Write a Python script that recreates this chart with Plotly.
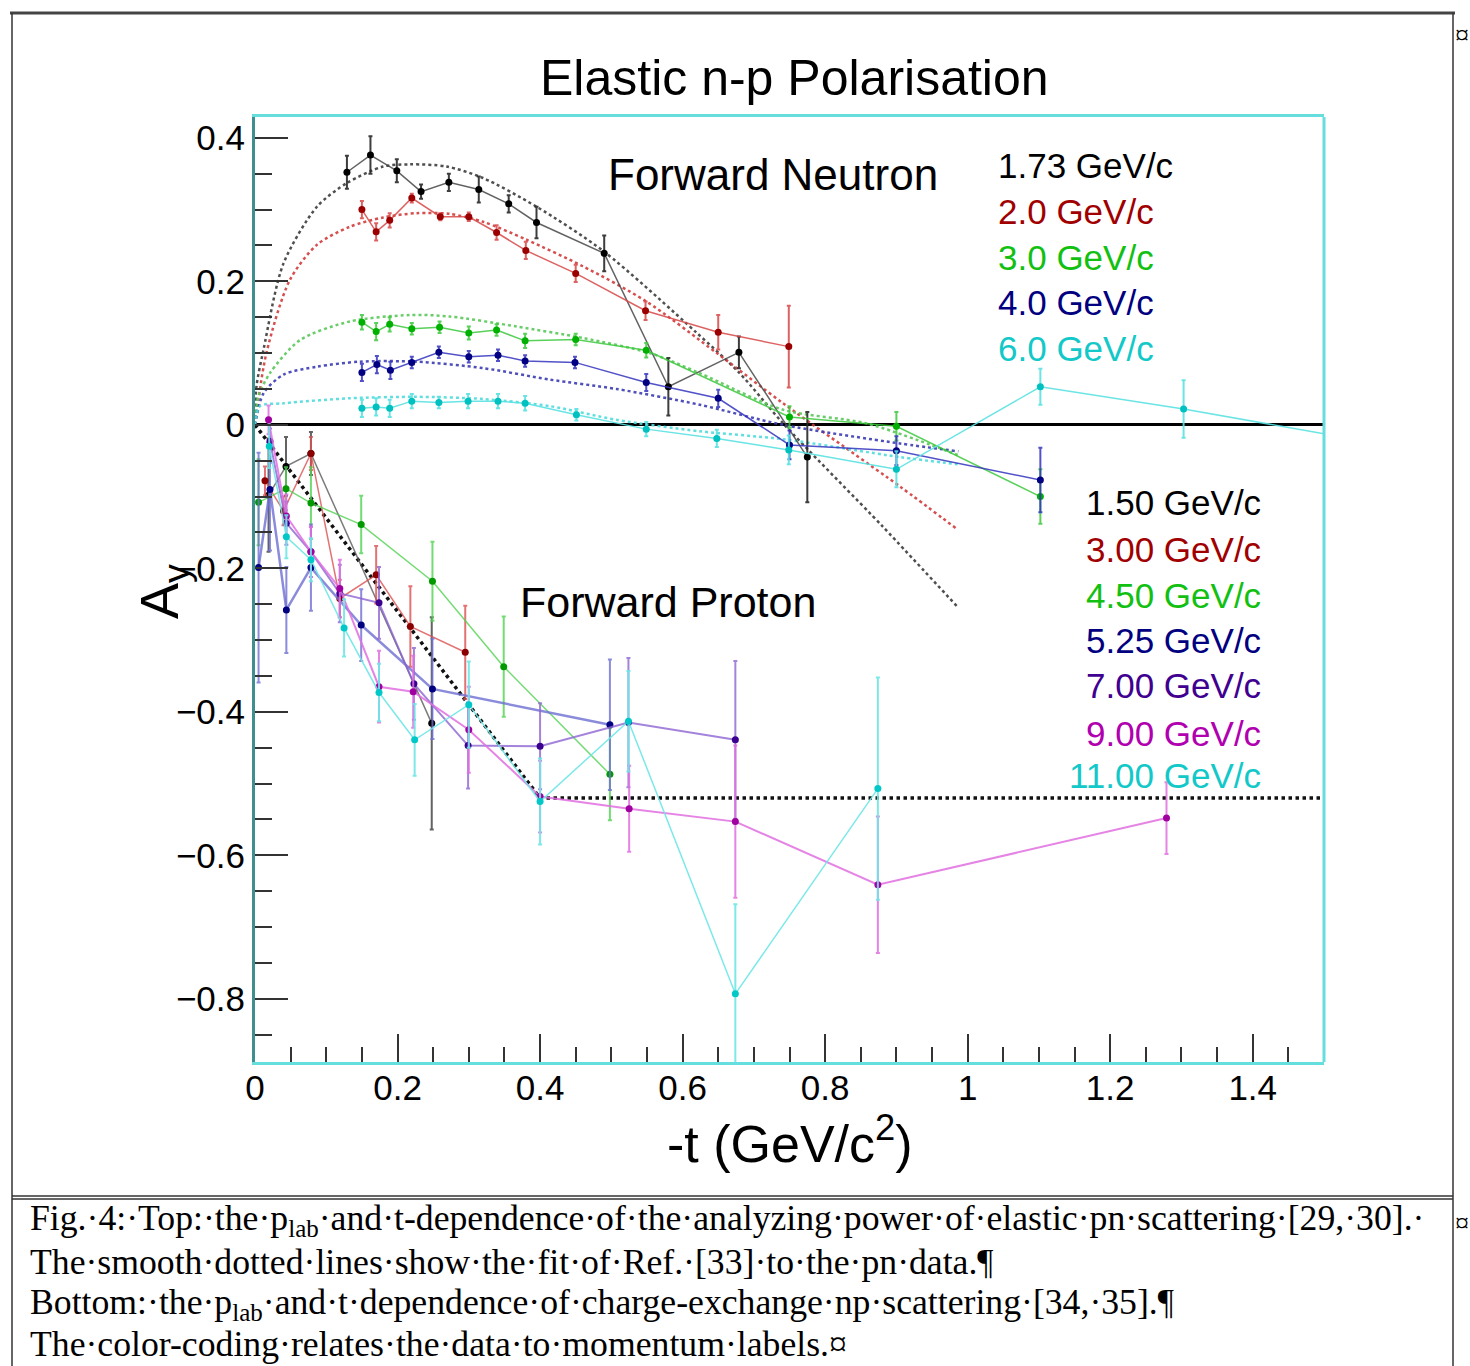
import plotly.graph_objects as go

# ---------------- data ----------------
# Forward neutron (elastic n-p), -t in GeV^2, Ay
n173_t = [0.129, 0.162, 0.199, 0.233, 0.272, 0.314, 0.356, 0.395, 0.490, 0.580, 0.679, 0.775]
n173_a = [0.352, 0.376, 0.354, 0.325, 0.338, 0.328, 0.308, 0.282, 0.239, 0.053, 0.101, -0.045]
n173_e = [0.023, 0.026, 0.016, 0.010, 0.012, 0.018, 0.012, 0.022, 0.025, 0.040, 0.022, 0.063]

n20_t = [0.150, 0.170, 0.189, 0.220, 0.260, 0.300, 0.339, 0.380, 0.450, 0.548, 0.650, 0.749]
n20_a = [0.300, 0.269, 0.285, 0.316, 0.290, 0.290, 0.268, 0.243, 0.211, 0.159, 0.129, 0.109]
n20_e = [0.012, 0.012, 0.010, 0.006, 0.005, 0.006, 0.010, 0.012, 0.012, 0.013, 0.024, 0.057]

n30_t = [0.150, 0.170, 0.189, 0.220, 0.259, 0.300, 0.339, 0.379, 0.450, 0.549, 0.750, 0.900, 1.102]
n30_a = [0.143, 0.130, 0.140, 0.134, 0.136, 0.128, 0.132, 0.117, 0.119, 0.104, 0.011, -0.002, -0.100]
n30_e = [0.010, 0.012, 0.010, 0.008, 0.008, 0.009, 0.008, 0.010, 0.008, 0.010, 0.015, 0.020, 0.038]

n40_t = [0.150, 0.171, 0.190, 0.220, 0.258, 0.300, 0.341, 0.379, 0.449, 0.549, 0.650, 0.750, 0.900, 1.102]
n40_a = [0.073, 0.084, 0.076, 0.087, 0.101, 0.095, 0.097, 0.089, 0.087, 0.059, 0.037, -0.028, -0.036, -0.077]
n40_e = [0.012, 0.012, 0.012, 0.008, 0.008, 0.008, 0.008, 0.008, 0.008, 0.012, 0.012, 0.020, 0.020, 0.045]

n60_t = [0.150, 0.170, 0.189, 0.220, 0.258, 0.299, 0.341, 0.379, 0.451, 0.549, 0.648, 0.749, 0.900, 1.102, 1.303, 1.600]
n60_a = [0.023, 0.025, 0.023, 0.033, 0.031, 0.033, 0.033, 0.030, 0.014, -0.006, -0.019, -0.035, -0.062, 0.053, 0.022, -0.030]
n60_e = [0.012, 0.012, 0.012, 0.010, 0.008, 0.010, 0.010, 0.010, 0.008, 0.010, 0.012, 0.020, 0.025, 0.025, 0.040, 0.040]

# smooth fits (Ref. [33])
f173_t = [0.0, 0.002, 0.012, 0.040, 0.087, 0.129, 0.180, 0.217, 0.269, 0.320, 0.395, 0.489, 0.620, 0.680, 0.741, 0.881, 0.986]
f173_a = [0.0, 0.053, 0.105, 0.225, 0.304, 0.337, 0.360, 0.363, 0.360, 0.344, 0.304, 0.242, 0.128, 0.072, 0.002, -0.142, -0.254]
f20_t = [0.0, 0.016, 0.049, 0.087, 0.133, 0.180, 0.227, 0.273, 0.320, 0.381, 0.460, 0.549, 0.648, 0.741, 0.905, 0.986]
f20_a = [0.0, 0.100, 0.202, 0.251, 0.276, 0.289, 0.295, 0.294, 0.283, 0.258, 0.221, 0.172, 0.100, 0.030, -0.086, -0.146]
f30_t = [0.0, 0.005, 0.021, 0.063, 0.133, 0.217, 0.273, 0.367, 0.460, 0.554, 0.624, 0.741, 0.858, 0.986]
f30_a = [0.0, 0.040, 0.072, 0.118, 0.144, 0.153, 0.151, 0.137, 0.121, 0.100, 0.072, 0.021, 0.002, -0.042]
f40_t = [0.0, 0.012, 0.040, 0.087, 0.147, 0.227, 0.320, 0.414, 0.507, 0.624, 0.741, 0.905, 0.987]
f40_a = [0.0, 0.044, 0.070, 0.081, 0.088, 0.088, 0.079, 0.063, 0.050, 0.028, 0.000, -0.026, -0.037]
f60_t = [0.0, 0.007, 0.040, 0.133, 0.227, 0.320, 0.414, 0.507, 0.624, 0.741, 0.905, 0.986]
f60_a = [0.0, 0.026, 0.030, 0.037, 0.039, 0.036, 0.026, 0.007, -0.009, -0.020, -0.045, -0.055]

# Forward proton (charge exchange n-p)
p150_t = [0.019, 0.0435, 0.0785, 0.248]
p150_a = [-0.098, -0.058, -0.040, -0.416]
p150_e = [0.079, 0.041, 0.030, 0.148]

p300_t = [0.014, 0.040, 0.0785, 0.119, 0.170, 0.218, 0.295]
p300_a = [-0.078, -0.120, -0.040, -0.242, -0.209, -0.281, -0.317]
p300_e = [0.020, 0.020, 0.023, 0.026, 0.040, 0.056, 0.065]

p450_t = [0.005, 0.0435, 0.0785, 0.149, 0.249, 0.349, 0.498]
p450_a = [-0.108, -0.089, -0.109, -0.139, -0.218, -0.337, -0.487]
p450_e = [0.060, 0.030, 0.050, 0.040, 0.055, 0.070, 0.064]

p525_t = [0.005, 0.021, 0.044, 0.0785, 0.149, 0.249, 0.498]
p525_a = [-0.199, -0.090, -0.258, -0.199, -0.279, -0.368, -0.418]
p525_e = [0.160, 0.085, 0.060, 0.060, 0.050, 0.070, 0.091]

p700_t = [0.021, 0.044, 0.0785, 0.119, 0.174, 0.223, 0.299, 0.400, 0.524, 0.674]
p700_a = [-0.023, -0.137, -0.177, -0.235, -0.248, -0.361, -0.447, -0.448, -0.415, -0.439]
p700_e = [0.030, 0.030, 0.035, 0.040, 0.050, 0.050, 0.060, 0.060, 0.090, 0.110]

p900_t = [0.019, 0.044, 0.0785, 0.119, 0.174, 0.222, 0.300, 0.400, 0.525, 0.674, 0.874, 1.279]
p900_a = [0.007, -0.127, -0.177, -0.228, -0.365, -0.372, -0.425, -0.518, -0.535, -0.553, -0.641, -0.548]
p900_e = [0.020, 0.030, 0.035, 0.040, 0.050, 0.050, 0.060, 0.050, 0.060, 0.106, 0.095, 0.050]

p1100_t = [0.020, 0.044, 0.0785, 0.125, 0.174, 0.224, 0.300, 0.400, 0.524, 0.674, 0.874]
p1100_a = [-0.030, -0.156, -0.188, -0.283, -0.373, -0.439, -0.390, -0.525, -0.413, -0.793, -0.507]
p1100_e = [0.030, 0.030, 0.030, 0.040, 0.040, 0.050, 0.060, 0.060, 0.070, 0.125, 0.155]

# black guide line of the proton panel
pline_t = [0.0, 0.4, 1.5]
pline_a = [0.0, -0.52, -0.52]

neutron_labels = ["1.73 GeV/c", "2.0 GeV/c", "3.0 GeV/c", "4.0 GeV/c", "6.0 GeV/c"]
proton_labels = ["1.50 GeV/c", "3.00 GeV/c", "4.50 GeV/c", "5.25 GeV/c", "7.00 GeV/c", "9.00 GeV/c", "11.00 GeV/c"]

x_tickvals = [0, 0.2, 0.4, 0.6, 0.8, 1.0, 1.2, 1.4]
x_ticktext = ["0", "0.2", "0.4", "0.6", "0.8", "1", "1.2", "1.4"]
y_tickvals = [-0.8, -0.6, -0.4, -0.2, 0, 0.2, 0.4]
y_ticktext = ["\u22120.8", "\u22120.6", "\u22120.4", "\u22120.2", "0", "0.2", "0.4"]

caption_lines = [
    "Fig.\u00b74:\u00b7Top:\u00b7the\u00b7p<sub>lab</sub>\u00b7and\u00b7t-dependence\u00b7of\u00b7the\u00b7analyzing\u00b7power\u00b7of\u00b7elastic\u00b7pn\u00b7scattering\u00b7[29,\u00b730].\u00b7",
    "The\u00b7smooth\u00b7dotted\u00b7lines\u00b7show\u00b7the\u00b7fit\u00b7of\u00b7Ref.\u00b7[33]\u00b7to\u00b7the\u00b7pn\u00b7data.\u00b6",
    "Bottom:\u00b7the\u00b7p<sub>lab</sub>\u00b7and\u00b7t\u00b7dependence\u00b7of\u00b7charge-exchange\u00b7np\u00b7scattering\u00b7[34,\u00b735].\u00b6",
    "The\u00b7color-coding\u00b7relates\u00b7the\u00b7data\u00b7to\u00b7momentum\u00b7labels.\u00a4",
]

# ---------------- styling ----------------
W, H = 1470, 1366
L, R, T, B = 255, 1324, 117, 1062  # plot area in pixels
SANS = "Liberation Sans, Arial, Helvetica, sans-serif"
SERIF = "Liberation Serif, Times New Roman, serif"

def px(x):
    return (x - L) / (R - L)

def py(y):
    return (B - y) / (B - T)

fig = go.Figure()

def data_trace(t, a, e, mcol, lcol, lw=1.5, ecol=None):
    fig.add_trace(go.Scatter(
        x=t, y=a, mode="lines+markers",
        line=dict(color=lcol, width=lw),
        marker=dict(color=mcol, size=7, symbol="circle"),
        error_y=dict(type="data", array=e, color=ecol or lcol, thickness=2, width=2),
        cliponaxis=True, hoverinfo="skip"))

def fit_trace(t, a, col, lw=2.5):
    fig.add_trace(go.Scatter(
        x=t, y=a, mode="lines",
        line=dict(color=col, width=lw, dash="dot", shape="spline", smoothing=0.8),
        hoverinfo="skip"))

# neutron fits
fit_trace(f173_t, f173_a, "rgba(60,60,60,0.9)")
fit_trace(f20_t, f20_a, "rgba(210,60,60,0.9)")
fit_trace(f30_t, f30_a, "rgba(90,200,90,0.9)")
fit_trace(f40_t, f40_a, "rgba(60,60,180,0.9)")
fit_trace(f60_t, f60_a, "rgba(80,220,220,0.9)")

# neutron data
data_trace(n173_t, n173_a, n173_e, "#000000", "rgba(70,70,70,0.85)", ecol="rgba(40,40,40,0.9)")
data_trace(n20_t, n20_a, n20_e, "#9a0000", "rgba(215,70,70,0.85)")
data_trace(n30_t, n30_a, n30_e, "#00b000", "rgba(60,200,60,0.85)")
data_trace(n40_t, n40_a, n40_e, "#000080", "rgba(50,50,190,0.85)")
data_trace(n60_t, n60_a, n60_e, "#00c0c0", "rgba(90,225,225,0.9)")

# proton guide line
fig.add_trace(go.Scatter(x=pline_t, y=pline_a, mode="lines",
                         line=dict(color="#111111", width=3.5, dash="dot"), hoverinfo="skip"))

# proton data
data_trace(p150_t, p150_a, p150_e, "#000000", "rgba(90,90,90,0.8)", ecol="rgba(60,60,60,0.8)")
data_trace(p300_t, p300_a, p300_e, "#8a0000", "rgba(220,80,80,0.8)")
data_trace(p450_t, p450_a, p450_e, "#009a00", "rgba(80,210,80,0.8)")
data_trace(p525_t, p525_a, p525_e, "#000080", "rgba(110,110,210,0.8)", lw=2.5)
data_trace(p700_t, p700_a, p700_e, "#3c0090", "rgba(140,100,210,0.8)", lw=2)
data_trace(p900_t, p900_a, p900_e, "#a000a0", "rgba(225,110,225,0.85)", lw=2)
data_trace(p1100_t, p1100_a, p1100_e, "#00c8c8", "rgba(110,230,230,0.9)")

# ---------------- layout ----------------
fig.update_layout(
    width=W, height=H,
    margin=dict(l=L, r=W - R, t=T, b=H - B, pad=0),
    paper_bgcolor="white", plot_bgcolor="white",
    showlegend=False,
    font=dict(family=SANS, color="black"),
)
fig.update_xaxes(
    range=[0, 1.5], tickvals=x_tickvals, ticktext=x_ticktext,
    ticks="inside", ticklen=28, tickwidth=2, tickcolor="#333333",
    minor=dict(dtick=0.05, tick0=0, ticks="inside", ticklen=15, tickwidth=2, tickcolor="#333333"),
    showgrid=False, zeroline=False,
    showline=True, linecolor="#66dede", linewidth=3, mirror=True,
    tickfont=dict(size=35, family=SANS, color="black"),
    ticklabelstandoff=-7,
    automargin=False,
)
fig.update_yaxes(
    range=[-0.888, 0.429], tickvals=y_tickvals, ticktext=y_ticktext,
    ticks="inside", ticklen=33, tickwidth=2, tickcolor="#333333",
    minor=dict(dtick=0.05, tick0=0, ticks="inside", ticklen=17, tickwidth=2, tickcolor="#333333"),
    showgrid=False, zeroline=True, zerolinecolor="black", zerolinewidth=2.5,
    showline=True, linecolor="#3f8f8f", linewidth=3, mirror=False,
    tickfont=dict(size=35, family=SANS, color="black"),
    automargin=False,
)

shapes = []
# right frame edge in cyan
shapes.append(dict(type="line", xref="paper", yref="paper", x0=1, x1=1, y0=0, y1=1,
                   line=dict(color="#66dede", width=3)))
# document frame
shapes.append(dict(type="line", xref="paper", yref="paper", x0=px(10), x1=px(1455), y0=py(13), y1=py(13),
                   line=dict(color="#444444", width=3)))
shapes.append(dict(type="line", xref="paper", yref="paper", x0=px(12), x1=px(12), y0=py(13), y1=py(1366),
                   line=dict(color="#333333", width=1.5)))
shapes.append(dict(type="line", xref="paper", yref="paper", x0=px(1453), x1=px(1453), y0=py(13), y1=py(1366),
                   line=dict(color="#333333", width=1.5)))
shapes.append(dict(type="line", xref="paper", yref="paper", x0=px(12), x1=px(1453), y0=py(1196), y1=py(1196),
                   line=dict(color="#333333", width=1.5)))
shapes.append(dict(type="line", xref="paper", yref="paper", x0=px(12), x1=px(1453), y0=py(1199), y1=py(1199),
                   line=dict(color="#333333", width=1.5)))
fig.update_layout(shapes=shapes)

ann = []
def text(x, y, s, size, color="black", xanchor="left", family=SANS, angle=0):
    ann.append(dict(x=px(x), y=py(y), xref="paper", yref="paper", text=s, showarrow=False,
                    xanchor=xanchor, yanchor="middle", textangle=angle,
                    font=dict(size=size, color=color, family=family)))

text(794, 78, "Elastic n-p Polarisation", 50, xanchor="center")
text(606, 174, "Forward Neutron", 44)
text(518, 602, "Forward Proton", 43)

neutron_colors = ["#000000", "#a00000", "#12c012", "#000080", "#12c8c8"]
neutron_y = [165, 211, 257, 302, 348]
for lab, c, yy in zip(neutron_labels, neutron_colors, neutron_y):
    text(996, yy, lab, 35, color=c)

proton_colors = ["#000000", "#a00000", "#12c012", "#000080", "#400090", "#b000b0", "#12c8c8"]
proton_y = [503, 549, 595, 640, 686, 733, 775]
for lab, c, yy in zip(proton_labels, proton_colors, proton_y):
    text(1263, yy, lab, 35, color=c, xanchor="right")

text(790, 1140, "-t (GeV/c<sup>2</sup>)", 52, xanchor="center")
ann.append(dict(x=px(163), y=py(592), xref="paper", yref="paper", text="A<sub>y</sub>", showarrow=False,
                xanchor="center", yanchor="middle", textangle=-90,
                font=dict(size=54, color="black", family=SANS)))

cap_y = [1220, 1262, 1304, 1344]
for s, yy in zip(caption_lines, cap_y):
    text(28, yy, s, 35.7, family=SERIF)
text(1462, 35, "\u00a4", 28, family=SERIF, xanchor="center")
text(1462, 1222, "\u00a4", 28, family=SERIF, xanchor="center")

fig.update_layout(annotations=ann)

fig.write_html("out.html")
